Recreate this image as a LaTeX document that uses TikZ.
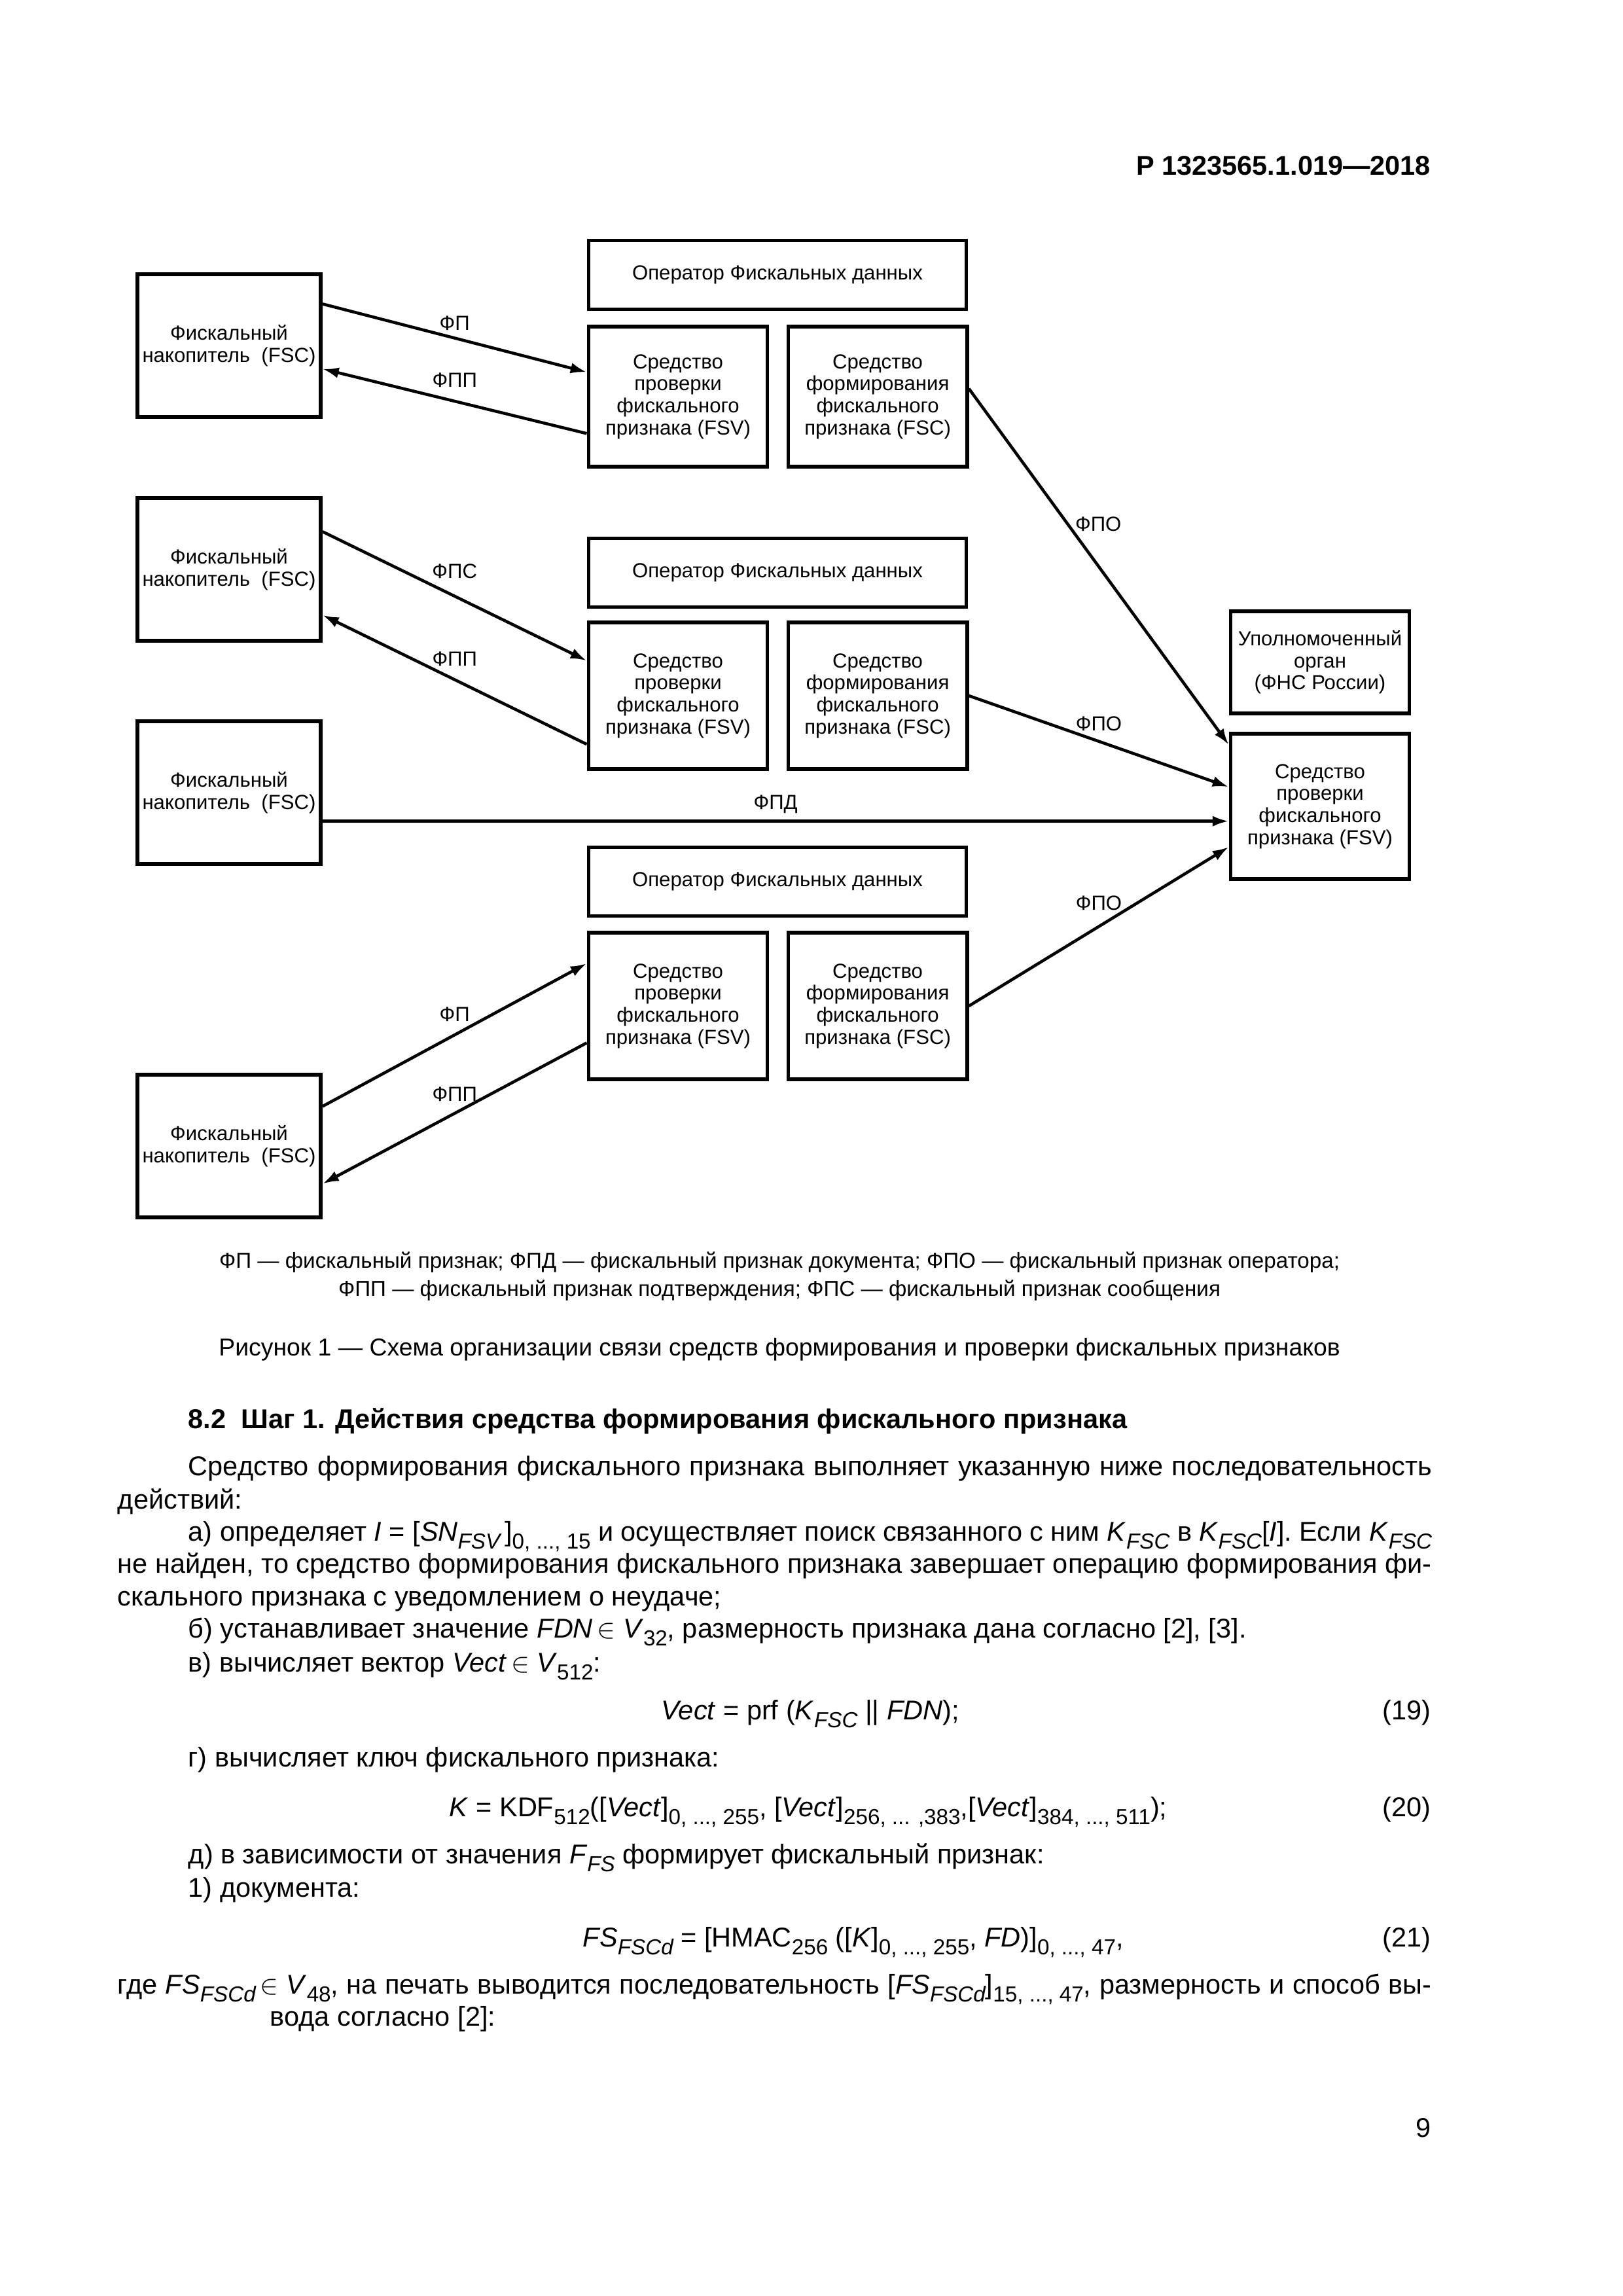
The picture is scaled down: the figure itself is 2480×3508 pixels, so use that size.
\documentclass[tikz,border=0pt]{standalone}
\usepackage{fontspec}
\setmainfont{Liberation Sans}
\usetikzlibrary{arrows.meta, positioning}
\newcommand{\boxfont}{\fontsize{7.5}{8.1}\selectfont}
\newcommand{\bodyfont}{\fontsize{10}{12}\selectfont}
\newcommand{\sub}[1]{\raisebox{-0.3em}{\fontsize{8}{9}\selectfont #1}}
\newcommand{\isub}[1]{\sub{\itshape #1}}
\tikzstyle{fn} = [rectangle, minimum width=23.7mm, minimum height=18.46mm, text centered, align=center, draw=black, line width=1.4pt, inner sep=0.5mm, font=\boxfont]
\tikzstyle{oper} = [rectangle, minimum width=48.86mm, minimum height=8.89mm, text centered, draw=black, line width=1.4pt, inner sep=0.5mm, font=\boxfont]
\tikzstyle{tool} = [rectangle, minimum width=23.12mm, minimum height=18.97mm, text centered, align=center, draw=black, line width=1.4pt, inner sep=0.5mm, font=\boxfont]
\tikzstyle{arrow} = [line width=1.1pt, -{Latex[length=2.1mm, width=1.4mm]}]
\tikzstyle{lbl} = [font=\boxfont, inner sep=0.8mm]
\tikzstyle{txt} = [anchor=base west, inner sep=0pt, font=\bodyfont]

\begin{document}
\begin{tikzpicture}[x=0.084677mm, y=-0.084677mm]
\fill[white] (0,0) rectangle (2480,3508);
\useasboundingbox (0,0) rectangle (2480,3508);

\node (head) [anchor=base east, inner sep=0pt, font=\fontsize{10}{12}\selectfont\bfseries] at (2187,267) {Р 1323565.1.019—2018};

% left column
\node (fn1) [fn] at (350,528) {Фискальный\\накопитель~~(FSC)};
\node (fn2) [fn] at (350,870) {Фискальный\\накопитель~~(FSC)};
\node (fn3) [fn] at (350,1211) {Фискальный\\накопитель~~(FSC)};
\node (fn4) [fn] at (350,1751) {Фискальный\\накопитель~~(FSC)};

% middle column
\node (oper1) [oper] at (1188,420) {Оператор Фискальных данных};
\node (fsv1) [tool, minimum height=18.12mm] at (1036,606) {Средство\\проверки\\фискального\\признака (FSV)};
\node (fsc1) [tool, minimum height=18.12mm, right of=fsv1, node distance=25.83mm] {Средство\\формирования\\фискального\\признака (FSC)};
\node (oper2) [oper] at (1188,875) {Оператор Фискальных данных};
\node (fsv2) [tool] at (1036,1063) {Средство\\проверки\\фискального\\признака (FSV)};
\node (fsc2) [tool, right of=fsv2, node distance=25.83mm] {Средство\\формирования\\фискального\\признака (FSC)};
\node (oper3) [oper] at (1188,1347) {Оператор Фискальных данных};
\node (fsv3) [tool] at (1036,1537) {Средство\\проверки\\фискального\\признака (FSV)};
\node (fsc3) [tool, right of=fsv3, node distance=25.83mm] {Средство\\формирования\\фискального\\признака (FSC)};

% right column
\node (fsvr) [tool, minimum height=18.8mm] at (2017,1232) {Средство\\проверки\\фискального\\признака (FSV)};
\node (upol) [tool, minimum height=13.21mm, above of=fsvr, node distance=18.63mm] {Уполномоченный\\орган\\(ФНС России)};

\draw [arrow] (fn1.24.6) -- (fsv1.165) node[lbl, midway, above] {ФП};
\draw [arrow] (fsv1.202.7) -- (fn1.346.3) node[lbl, midway, above=2.2pt] {ФПП};
\draw [arrow] (fn2.22.9) -- (fsv2.159.5) node[lbl, midway, above=3.8pt] {ФПС};
\draw [arrow] (fsv2.208.5) -- (fn2.334.8) node[lbl, midway, above=2.2pt] {ФПП};
\draw [arrow] (fn3.343.3) -- (fn3.343.3 -| fsvr.west) node[lbl, midway, above] {ФПД};
\draw [arrow] (fn4.23.9) -- (fsv3.155.6) node[lbl, midway, above=2.2pt] {ФП};
\draw [arrow] (fsv3.202.7) -- (fn4.338.6) node[lbl, midway, above=1.6pt] {ФПП};
\draw [arrow] (fsc1.5.4) -- (fsvr.146) node[lbl, pos=0.38, right] {ФПО};
\draw [arrow] (fsc2.east) -- (fsvr.168.4) node[lbl, midway, above=1pt] {ФПО};
\draw [arrow] (fsc3.east) -- (fsvr.204.4) node[lbl, midway, above=3.2pt] {ФПО};

% legend and caption
\node (leg1) [anchor=base, inner sep=0pt, font=\fontsize{8}{9.6}\selectfont] at (1191,1937) {ФП — фискальный признак; ФПД — фискальный признак документа; ФПО — фискальный признак оператора;};
\node (leg2) [anchor=base, inner sep=0pt, font=\fontsize{8}{9.6}\selectfont] at (1191,1980) {ФПП — фискальный признак подтверждения; ФПС — фискальный признак сообщения};
\node (capt) [anchor=base, inner sep=0pt, font=\fontsize{9}{10.8}\selectfont] at (1191,2071) {Рисунок 1 — Схема организации связи средств формирования и проверки фискальных признаков};

% text of the page
\node (sect) [txt, font=\bodyfont\bfseries] at (287,2182) {8.2~~Шаг 1. Действия средства формирования фискального признака};
\node (l1) [txt] at (287,2254) {\makebox[160.9mm][s]{Средство формирования фискального признака выполняет указанную ниже последовательность}};
\node (l2) [txt] at (179,2305) {действий:};
\node (l3) [txt] at (287,2354) {\makebox[160.9mm][s]{а) определяет \textit{I} = [\textit{SN}\isub{FSV}\,]\sub{0, ..., 15} и осуществляет поиск связанного с ним \textit{K}\isub{FSC} в \textit{K}\isub{FSC}[\textit{I}]. Если \textit{K}\isub{FSC}}};
\node (l4) [txt] at (179,2403) {\makebox[170mm][s]{не найден, то средство формирования фискального признака завершает операцию формирования фи-}};
\node (l5) [txt] at (179,2453) {скального признака с уведомлением о неудаче;};
\node (l6) [txt] at (287,2502) {б) устанавливает значение \textit{FDN}\,$\in$ \textit{V}\sub{32}, размерность признака дана согласно [2], [3].};
\node (l7) [txt] at (287,2554) {в) вычисляет вектор \textit{Vect}\,$\in$ \textit{V}\sub{512}:};
\node (eq1) [txt] at (1010,2627) {\textit{Vect} = prf (\textit{K}\isub{FSC} || \textit{FDN});};
\node (n1) [txt, anchor=base east] at (2187,2627) {(19)};
\node (l8) [txt] at (287,2699) {г) вычисляет ключ фискального признака:};
\node (eq2) [txt] at (686,2775) {\textit{K} = KDF\sub{512}([\textit{Vect}]\sub{0, ..., 255}, [\textit{Vect}]\sub{256, ... ,383},[\textit{Vect}]\sub{384, ..., 511});};
\node (n2) [txt, anchor=base east] at (2187,2775) {(20)};
\node (l9) [txt] at (287,2847) {д) в зависимости от значения \textit{F}\isub{FS} формирует фискальный признак:};
\node (l10) [txt] at (287,2898) {1) документа:};
\node (eq3) [txt] at (890,2974) {\textit{FS}\isub{FSCd} = [HMAC\sub{256} ([\textit{K}]\sub{0, ..., 255}, \textit{FD})]\sub{0, ..., 47},};
\node (n3) [txt, anchor=base east] at (2187,2974) {(21)};
\node (l11) [txt] at (179,3046) {\makebox[170mm][s]{где \textit{FS}\isub{FSCd}\,$\in$ \textit{V}\sub{48}, на печать выводится последовательность [\textit{FS}\isub{FSCd}]\sub{15, ..., 47}, размерность и способ вы-}};
\node (l12) [txt] at (412,3095) {вода согласно [2]:};
\node (pg) [txt, anchor=base east] at (2187,3265) {9};
\end{tikzpicture}
\end{document}
